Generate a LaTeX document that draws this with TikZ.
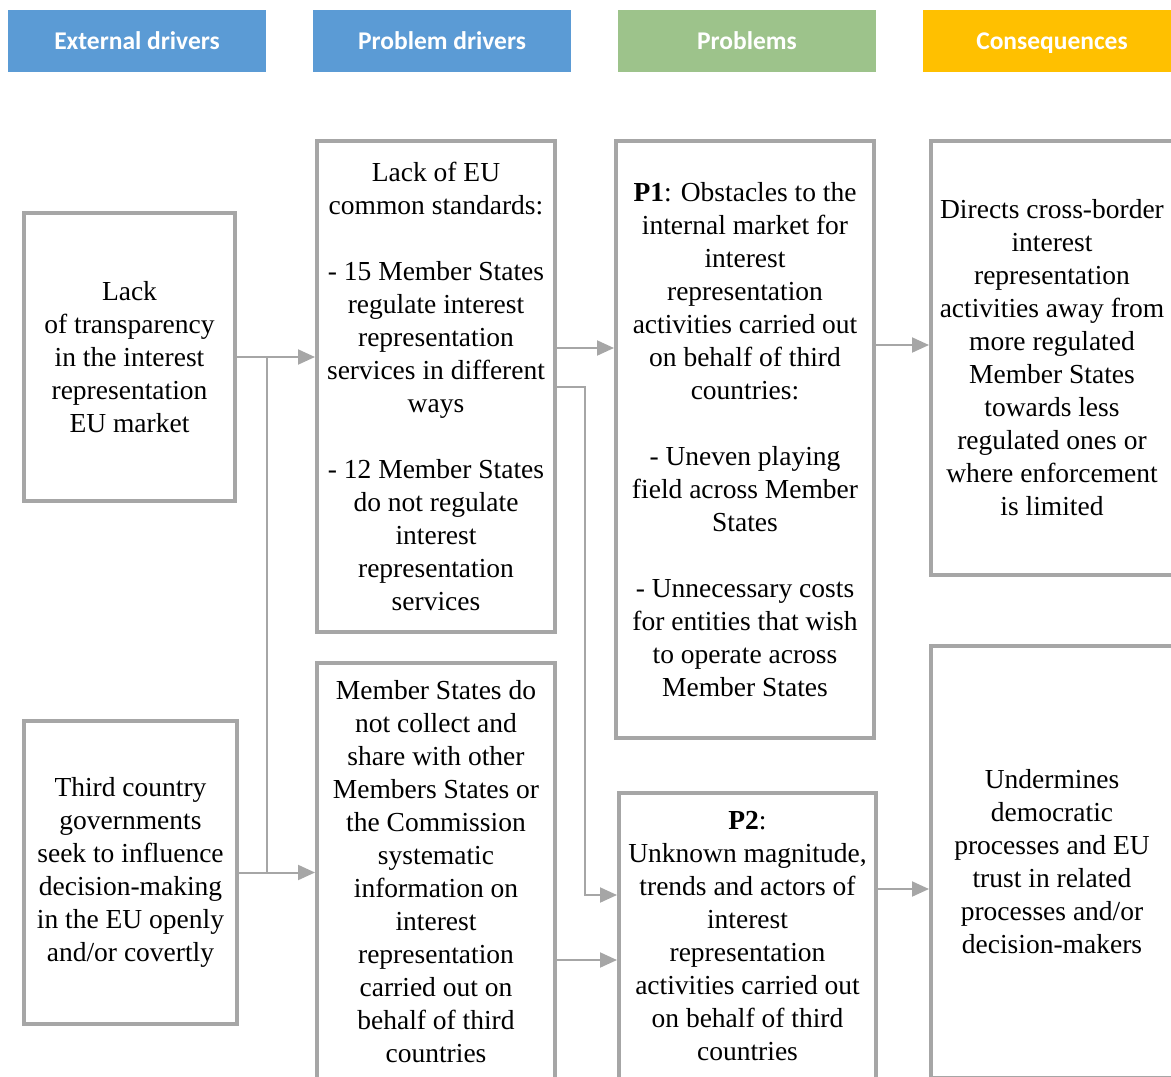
\documentclass[tikz,border=0pt]{standalone}
\usepackage{fontspec}
\setmainfont{Liberation Serif}
\newfontfamily\headfont{Carlito}
\usetikzlibrary{arrows.meta}
\usetikzlibrary{calc}
\definecolor{boxgray}{HTML}{A6A6A6}
\definecolor{headblue}{HTML}{5B9BD5}
\definecolor{headgreen}{HTML}{9DC38B}
\definecolor{headorange}{HTML}{FFC000}

\begin{document}
\begin{tikzpicture}[x=1pt,y=-1pt,
        head/.style={minimum width=258pt, minimum height=62pt, inner sep=0pt, text=white,
            text height=19pt, text depth=3pt,
            font=\headfont\bfseries\fontsize{25.5}{30}\selectfont},
        issue/.style={draw=boxgray, line width=4pt, align=center, inner sep=0pt,
            font=\fontsize{27.5}{33}\selectfont},
        conn/.style={draw=boxgray, line width=2pt, -{Triangle[length=17pt,width=15pt]}}]
        \useasboundingbox (0,0) rectangle (1171,1077);
        \clip (0,0) rectangle (1171,1077);

        % column headers
        \node[head, fill=headblue] (hext) at (137,41) {External drivers};
        \node[head, fill=headblue] (hdrv) at (442,41) {Problem drivers};
        \node[head, fill=headgreen] (hprb) at (747,41) {Problems};
        \node[head, fill=headorange] (hcon) at (1052,41) {Consequences};

        % external drivers
        \node[issue, minimum width=211pt, minimum height=288pt] (ext1) at (129.5,357)
            {Lack\\of transparency\\in the interest\\representation\\EU market};
        \node[issue, minimum width=213pt, minimum height=303pt] (ext2) at (130.5,872.5)
            {Third country\\governments\\seek to influence\\decision-making\\in the EU openly\\and/or covertly};

        % problem drivers
        \node[issue, minimum width=238pt, minimum height=491pt] (pd1) at (436,386.5)
            {Lack of EU\\common standards:\\[33pt]- 15 Member States\\regulate interest\\representation\\services in different\\ways\\[33pt]- 12 Member States\\do not regulate\\interest\\representation\\services};
        \node[issue, minimum width=238pt, minimum height=418pt] (pd2) at (436,872)
            {Member States do\\not collect and\\share with other\\Members States or\\the Commission\\systematic\\information on\\interest\\representation\\carried out on\\behalf of third\\countries};

        % problems
        \node[issue, minimum width=258pt, minimum height=597pt] (p1) at (745,439.5)
            {\textbf{P1}: Obstacles to the\\internal market for\\interest\\representation\\activities carried out\\on behalf of third\\countries:\\[33pt]- Uneven playing\\field across Member\\States\\[33pt]- Unnecessary costs\\for entities that wish\\to operate across\\Member States};
        \node[issue, minimum width=257pt, minimum height=286pt] (p2) at (747.5,936)
            {\textbf{P2}:\\Unknown magnitude,\\trends and actors of\\interest\\representation\\activities carried out\\on behalf of third\\countries};

        % consequences
        \node[issue, minimum width=242pt, minimum height=434pt] (c1) at (1052,358)
            {Directs cross-border\\interest\\representation\\activities away from\\more regulated\\Member States\\towards less\\regulated ones or\\where enforcement\\is limited};
        \node[issue, minimum width=242pt, minimum height=432pt] (c2) at (1052,862)
            {Undermines\\democratic\\processes and EU\\trust in related\\processes and/or\\decision-makers};

        \coordinate (j1) at (267,357);
        \coordinate (j2) at (267,872.5);

        \draw[conn] (ext1) -- (ext1 -| pd1.west);
        \draw[conn] (ext2) -- (ext2 -| pd2.west);
        \draw[boxgray, line width=2pt] (j1) -- (j2);
        \draw[conn] (pd1.east |- 0,348) -- (p1.west |- 0,348);
        \draw[conn] (pd1.east) -- ++(28,0) |- (p2.west |- 0,895);
        \draw[conn] (pd2.east |- 0,960) -- (p2.west |- 0,960);
        \draw[conn] (p1.east |- 0,345) -- (c1.west |- 0,345);
        \draw[conn] (p2.east |- 0,889) -- (c2.west |- 0,889);
    \end{tikzpicture}
\end{document}
